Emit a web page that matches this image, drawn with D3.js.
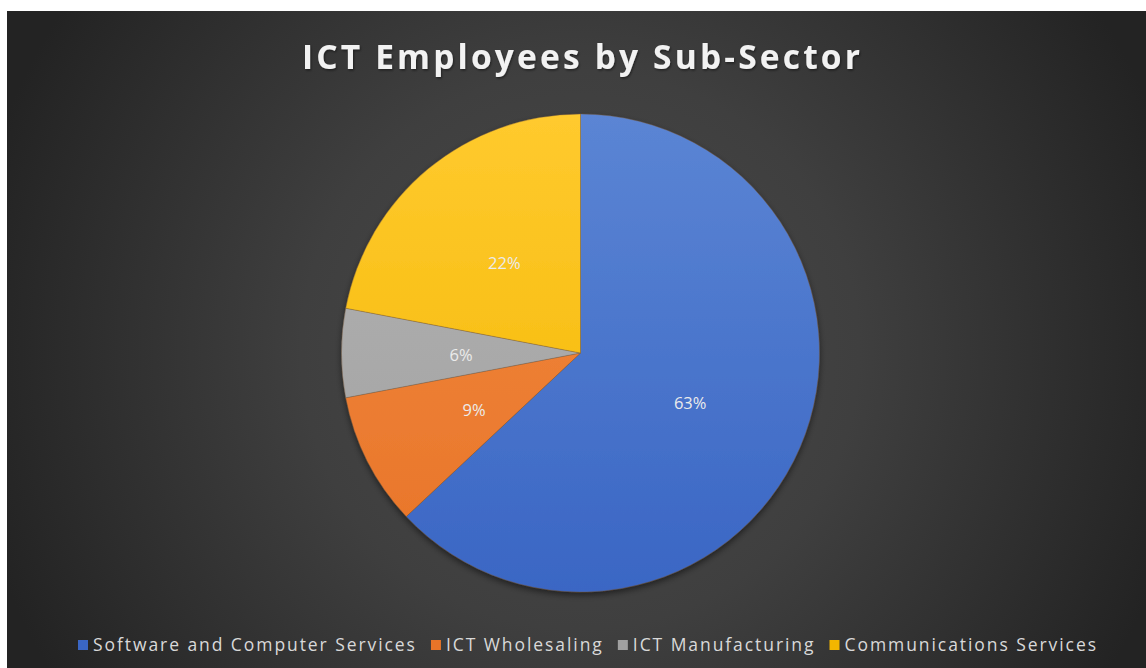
<!DOCTYPE html>
<html>
<head>
<meta charset="utf-8">
<script src="https://cdn.jsdelivr.net/npm/d3@7"></script>
<style>
  html, body { margin: 0; padding: 0; background: #ffffff; }
  svg { display: block; }
</style>
</head>
<body>
<svg id="chart" width="1146" height="668"></svg>
<script>
// Sub-sector shares of ICT employment (percent)
const categories = ["Software and Computer Services", "ICT Wholesaling", "ICT Manufacturing", "Communications Services"];
const shares = [63, 9, 6, 22];
const colorsTop = ["#5b85d4", "#f28a40", "#b3b3b3", "#ffca2e"];
const colorsBottom = ["#3a66c4", "#e87428", "#a0a0a0", "#f2b600"];
const titleText = "ICT Employees by Sub-Sector";

const W = 1146, H = 668;
const svg = d3.select("#chart");
const defs = svg.append("defs");

// chart area background: dark radial fade
const bg = defs.append("radialGradient").attr("id", "bg")
  .attr("gradientUnits", "userSpaceOnUse")
  .attr("cx", 580).attr("cy", 350).attr("r", 620);
bg.append("stop").attr("offset", "0%").attr("stop-color", "#4a4a4a");
bg.append("stop").attr("offset", "45%").attr("stop-color", "#3f3f3f");
bg.append("stop").attr("offset", "100%").attr("stop-color", "#232323");

svg.append("rect").attr("x", 7).attr("y", 11).attr("width", W - 7).attr("height", H - 11)
  .attr("fill", "url(#bg)");

// title with a faint drop shadow
const tShadow = defs.append("filter").attr("id", "tshadow");
tShadow.append("feDropShadow").attr("dx", 1).attr("dy", 1.5).attr("stdDeviation", 1.2)
  .attr("flood-color", "#000").attr("flood-opacity", 0.45);

svg.append("text")
  .attr("x", 581).attr("y", 69)
  .attr("text-anchor", "middle")
  .attr("font-family", "'Open Sans', 'DejaVu Sans', sans-serif")
  .attr("font-weight", 700)
  .attr("font-size", 33.5)
  .attr("fill", "#f2f2f2")
  .attr("filter", "url(#tshadow)")
  .attr("textLength", 558)
  .attr("lengthAdjust", "spacing")
  .text(titleText);

// pie
const cx = 580.5, cy = 353, R = 239;
const pie = d3.pie().sort(null).value(d => d)(shares);
const arc = d3.arc().innerRadius(0).outerRadius(R);
const labelArc = d3.arc().innerRadius(R * 0.5).outerRadius(R * 0.5);

shares.forEach((v, i) => {
  const g = defs.append("linearGradient").attr("id", "slice" + i)
    .attr("gradientUnits", "userSpaceOnUse")
    .attr("x1", 0).attr("y1", -R).attr("x2", 0).attr("y2", R);
  g.append("stop").attr("offset", "0%").attr("stop-color", colorsTop[i]);
  g.append("stop").attr("offset", "100%").attr("stop-color", colorsBottom[i]);
});

const shadow = defs.append("filter").attr("id", "shadow")
  .attr("x", "-10%").attr("y", "-10%").attr("width", "120%").attr("height", "120%");
shadow.append("feGaussianBlur").attr("in", "SourceAlpha").attr("stdDeviation", 3);
shadow.append("feOffset").attr("dx", 0).attr("dy", 3).attr("result", "b");
shadow.append("feComponentTransfer").append("feFuncA").attr("type", "linear").attr("slope", 0.5);
const merge = shadow.append("feMerge");
merge.append("feMergeNode");
merge.append("feMergeNode").attr("in", "SourceGraphic");

const pg = svg.append("g").attr("transform", `translate(${cx},${cy})`);
pg.append("g").attr("filter", "url(#shadow)")
  .selectAll("path").data(pie).join("path")
  .attr("d", arc)
  .attr("fill", (d, i) => `url(#slice${i})`)
  .attr("stroke", "#7a5a3a")
  .attr("stroke-opacity", 0.45)
  .attr("stroke-width", 0.8);

pg.selectAll("text.lbl").data(pie).join("text")
  .attr("class", "lbl")
  .attr("transform", d => `translate(${labelArc.centroid(d)})`)
  .attr("text-anchor", "middle")
  .attr("dy", "0.5em")
  .attr("font-family", "'Open Sans', 'DejaVu Sans', sans-serif")
  .attr("font-size", 16.5)
  .attr("fill", "#ebebeb")
  .text(d => d.data + "%");

// legend: one row, text spaced out to fill the chart width
const legend = svg.append("g");
const fontSize = 17.5;
const legendLeft = 78, legendWidth = 1018;
const sq = 10, sqGap = 5, itemGap = 16;
const items = legend.selectAll("g").data(categories).join("g");
items.append("rect").attr("width", sq).attr("height", sq).attr("y", -11)
  .attr("fill", (d, i) => colorsBottom[i]);
const texts = items.append("text").attr("x", sq + sqGap)
  .attr("font-family", "'Open Sans', 'DejaVu Sans', sans-serif")
  .attr("font-size", fontSize)
  .attr("fill", "#d9d9d9")
  .text(d => d);
let natural = 0, chars = 0;
texts.each(function (d) { natural += this.getComputedTextLength(); chars += d.length - 1; });
const fixed = categories.length * (sq + sqGap) + (categories.length - 1) * itemGap;
const spacing = (legendWidth - fixed - natural) / chars;
texts.attr("letter-spacing", spacing);
let x = 0;
items.each(function (d) {
  const t = d3.select(this).select("text").node();
  const w = sq + sqGap + t.getComputedTextLength() - spacing;
  d3.select(this).attr("transform", `translate(${x},0)`);
  x += w + itemGap;
});
legend.attr("transform", `translate(${legendLeft},651)`);
</script>
</body>
</html>
